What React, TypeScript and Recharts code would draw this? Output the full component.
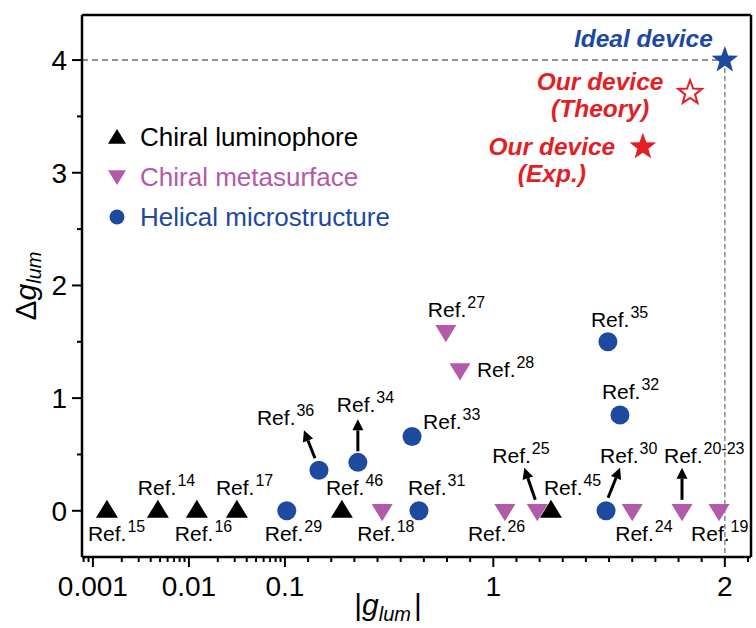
import React from 'react';
import { ScatterChart, Scatter, XAxis, YAxis, ReferenceLine, Legend } from 'recharts';

const BLACK = '#000000';
const MAGENTA = '#b35aa8';
const BLUE = '#1d4a9e';
const RED = '#e31e24';
const FONT = '"Liberation Sans", Arial, Helvetica, sans-serif';

// |g_lum| and delta g_lum
const luminophore = [
  { g: 0.0014, dg: 0, ref: '15' },
  { g: 0.00475, dg: 0, ref: '14' },
  { g: 0.0121, dg: 0, ref: '16' },
  { g: 0.0316, dg: 0, ref: '17' },
  { g: 0.346, dg: 0, ref: '46' },
  { g: 1.249, dg: 0, ref: '45' },
];
const metasurface = [
  { g: 0.52, dg: 0, ref: '18' },
  { g: 1.05, dg: 0, ref: '26' },
  { g: 1.19, dg: 0, ref: '25' },
  { g: 1.6, dg: 0, ref: '24' },
  { g: 1.815, dg: 0, ref: '20-23' },
  { g: 1.975, dg: 0, ref: '19' },
  { g: 0.795, dg: 1.59, ref: '27' },
  { g: 0.856, dg: 1.25, ref: '28' },
];
const helical = [
  { g: 0.108, dg: 0, ref: '29' },
  { g: 0.247, dg: 0.36, ref: '36' },
  { g: 0.415, dg: 0.43, ref: '34' },
  { g: 0.649, dg: 0.66, ref: '33' },
  { g: 0.679, dg: 0, ref: '31' },
  { g: 1.495, dg: 1.5, ref: '35' },
  { g: 1.547, dg: 0.85, ref: '32' },
  { g: 1.487, dg: 0, ref: '30' },
];
const devices = [
  { g: 2.0, dg: 4.0, id: 'ideal' },
  { g: 1.85, dg: 3.71, id: 'theory' },
  { g: 1.646, dg: 3.23, id: 'exp' },
];

const legendItems = [
  { name: 'Chiral luminophore', color: BLACK, shape: 'up' },
  { name: 'Chiral metasurface', color: MAGENTA, shape: 'down' },
  { name: 'Helical microstructure', color: BLUE, shape: 'circle' },
];

const majorX = [0.001, 0.01, 0.1, 1, 2];
const minorX = [
  0.0008, 0.0009,
  0.002, 0.003, 0.004, 0.005, 0.006, 0.007, 0.008, 0.009,
  0.02, 0.03, 0.04, 0.05, 0.06, 0.07, 0.08, 0.09,
  0.2, 0.3, 0.4, 0.5, 0.6, 0.7, 0.8, 0.9,
  1.1, 1.2, 1.3, 1.4, 1.5, 1.6, 1.7, 1.8, 1.9, 2.1,
];
const majorY = [0, 1, 2, 3, 4];
const minorY = [0.5, 1.5, 2.5, 3.5];

// broken axis: log below 0.1, linear above
const DECADE = 96;
const TENTH = 231.5;
const tx = (v: number) => (v <= 0.1 ? DECADE * (Math.log10(v) + 1) : TENTH * (v - 0.1));

const X_DOMAIN: [number, number] = [tx(0.00077), tx(2.113)];
const Y_DOMAIN: [number, number] = [-0.41, 4.4];
const xTicks = [...majorX, ...minorX].map(tx);
const yTicks = [...majorY, ...minorY];

const toPoints = (rows: { g: number; dg: number }[]) => rows.map((r) => ({ ...r, x: tx(r.g), y: r.dg }));

// label offsets (px) from the marker centre, arrows as [x1, y1, x2, y2]
const labelPlace: Record<string, { dx: number; dy: number; arrow?: number[] }> = {
  '15': { dx: -19, dy: 30 },
  '14': { dx: -20, dy: -16 },
  '16': { dx: -22, dy: 30 },
  '17': { dx: -21, dy: -16 },
  '46': { dx: -16, dy: -16 },
  '45': { dx: -7, dy: -16 },
  '18': { dx: -25, dy: 30 },
  '26': { dx: -37, dy: 30 },
  '25': { dx: -45, dy: -48, arrow: [-2, -11, -13, -43] },
  '24': { dx: -17, dy: 30 },
  '20-23': { dx: -18, dy: -48, arrow: [0, -11, 0, -43] },
  '19': { dx: -28, dy: 30 },
  '27': { dx: -18, dy: -15 },
  '28': { dx: 17, dy: 7 },
  '29': { dx: -22, dy: 30 },
  '36': { dx: -62, dy: -45, arrow: [-4, -12, -15, -40] },
  '34': { dx: -21, dy: -50, arrow: [0, -11, 0, -43] },
  '33': { dx: 11, dy: -7 },
  '31': { dx: -11, dy: -16 },
  '35': { dx: -17, dy: -15 },
  '32': { dx: -18, dy: -16 },
  '30': { dx: -6, dy: -48, arrow: [2, -13, 14, -43] },
};

const deviceText: Record<string, { lines: string[]; color: string; anchor: 'end' | 'middle'; dx: number; dy: number }> = {
  ideal: { lines: ['Ideal device'], color: BLUE, anchor: 'end', dx: -12, dy: -13 },
  theory: { lines: ['Our device', '(Theory)'], color: RED, anchor: 'middle', dx: -90, dy: -3 },
  exp: { lines: ['Our device', '(Exp.)'], color: RED, anchor: 'middle', dx: -91, dy: 8 },
};

const near = (list: number[], v: number, f: (n: number) => number) => list.find((m) => Math.abs(f(m) - v) < 1e-6);

const BottomTick = ({ x, y, payload }: any) => {
  const m = near(majorX, payload.value, tx);
  return (
    <g>
      <line x1={x} x2={x} y1={y} y2={y + (m !== undefined ? 10 : 5)} stroke={BLACK} strokeWidth={2} />
      {m !== undefined && (
        <text x={x} y={y + 39} textAnchor="middle" fontSize={28} fontFamily={FONT} fill={BLACK}>
          {String(m)}
        </text>
      )}
    </g>
  );
};

const TopTick = ({ x, y, payload }: any) => {
  const m = near(majorX, payload.value, tx);
  return <line x1={x} x2={x} y1={y} y2={y + (m !== undefined ? 10 : 5)} stroke={BLACK} strokeWidth={2} />;
};

const LeftTick = ({ x, y, payload }: any) => {
  const m = near(majorY, payload.value, (n) => n);
  return (
    <g>
      <line x1={x - (m !== undefined ? 10 : 5)} x2={x} y1={y} y2={y} stroke={BLACK} strokeWidth={2} />
      {m !== undefined && (
        <text x={x - 15} y={y + 10} textAnchor="end" fontSize={28} fontFamily={FONT} fill={BLACK}>
          {String(m)}
        </text>
      )}
    </g>
  );
};

const RightTick = ({ x, y, payload }: any) => {
  const m = near(majorY, payload.value, (n) => n);
  return <line x1={x - (m !== undefined ? 10 : 5)} x2={x} y1={y} y2={y} stroke={BLACK} strokeWidth={2} />;
};

const Arrow = ({ x1, y1, x2, y2 }: { x1: number; y1: number; x2: number; y2: number }) => {
  const len = Math.hypot(x2 - x1, y2 - y1);
  const ux = (x2 - x1) / len;
  const uy = (y2 - y1) / len;
  const hl = 11;
  const hw = 5.5;
  const bx = x2 - ux * hl;
  const by = y2 - uy * hl;
  return (
    <g>
      <line x1={x1} y1={y1} x2={bx} y2={by} stroke={BLACK} strokeWidth={3} />
      <polygon
        points={`${x2},${y2} ${bx - uy * hw},${by + ux * hw} ${bx + uy * hw},${by - ux * hw}`}
        fill={BLACK}
      />
    </g>
  );
};

const RefLabel = ({ cx, cy, refName }: { cx: number; cy: number; refName: string }) => {
  const p = labelPlace[refName];
  if (!p) return null;
  return (
    <g>
      {p.arrow && <Arrow x1={cx + p.arrow[0]} y1={cy + p.arrow[1]} x2={cx + p.arrow[2]} y2={cy + p.arrow[3]} />}
      <text x={cx + p.dx} y={cy + p.dy} fontSize={21} fontFamily={FONT} fill={BLACK}>
        Ref.
        <tspan dx={1} dy={-9} fontSize={16}>
          {refName}
        </tspan>
      </text>
    </g>
  );
};

const upTri = (cx: number, cy: number, s: number) =>
  `${cx},${cy - s} ${cx - s},${cy + s * 0.64} ${cx + s},${cy + s * 0.64}`;
const downTri = (cx: number, cy: number, s: number) =>
  `${cx - s},${cy - s * 0.64} ${cx + s},${cy - s * 0.64} ${cx},${cy + s}`;

const starPath = (cx: number, cy: number, R: number, r: number) => {
  const pts: string[] = [];
  for (let i = 0; i < 10; i++) {
    const a = -Math.PI / 2 + (i * Math.PI) / 5;
    const rad = i % 2 === 0 ? R : r;
    pts.push(`${cx + rad * Math.cos(a)},${cy + rad * Math.sin(a)}`);
  }
  return `M${pts.join('L')}Z`;
};

const UpShape = ({ cx, cy, payload }: any) => (
  <g>
    <polygon points={upTri(cx, cy, 11)} fill={BLACK} />
    <RefLabel cx={cx} cy={cy} refName={payload.ref} />
  </g>
);

const DownShape = ({ cx, cy, payload }: any) => (
  <g>
    <polygon points={downTri(cx, cy, 10.5)} fill={MAGENTA} />
    <RefLabel cx={cx} cy={cy} refName={payload.ref} />
  </g>
);

const CircleShape = ({ cx, cy, payload }: any) => (
  <g>
    <circle cx={cx} cy={cy} r={9.5} fill={BLUE} />
    <RefLabel cx={cx} cy={cy} refName={payload.ref} />
  </g>
);

const StarShape = ({ cx, cy, payload }: any) => {
  const t = deviceText[payload.id];
  const open = payload.id === 'theory';
  const tx0 = cx + t.dx;
  return (
    <g>
      <path
        d={starPath(cx, cy, open ? 12.5 : 14, open ? 5.2 : 5.8)}
        fill={open ? '#ffffff' : t.color}
        stroke={t.color}
        strokeWidth={open ? 2 : 0}
      />
      {t.lines.map((line, i) => (
        <text
          key={line}
          x={tx0}
          y={cy + t.dy + i * 27}
          textAnchor={t.anchor}
          fontSize={24.5}
          fontWeight="bold"
          fontStyle="italic"
          fontFamily={FONT}
          fill={t.color}
        >
          {line}
        </text>
      ))}
    </g>
  );
};

const LegendBox = () => (
  <div style={{ fontFamily: FONT, fontSize: 26 }}>
    {legendItems.map((it) => (
      <div key={it.name} style={{ display: 'flex', alignItems: 'center', height: 40 }}>
        <svg width={24} height={24} style={{ marginRight: 11 }}>
          {it.shape === 'up' && <polygon points={upTri(12, 13, 9)} fill={it.color} />}
          {it.shape === 'down' && <polygon points={downTri(12, 11, 9)} fill={it.color} />}
          {it.shape === 'circle' && <circle cx={12} cy={12} r={7.5} fill={it.color} />}
        </svg>
        <span style={{ color: it.color, whiteSpace: 'nowrap' }}>{it.name}</span>
      </div>
    ))}
  </div>
);

const YTitle = () => (
  <text x={36} y={286} transform="rotate(-90, 36, 286)" textAnchor="middle" fontSize={30} fontFamily={FONT} fill={BLACK}>
    Δ<tspan fontStyle="italic">g</tspan>
    <tspan fontStyle="italic" fontSize={20} dy={5}>
      lum
    </tspan>
  </text>
);

const XTitle = () => (
  <text x={388} y={615} textAnchor="middle" fontSize={30} fontFamily={FONT} fill={BLACK}>
    |<tspan fontStyle="italic">g</tspan>
    <tspan fontStyle="italic" fontSize={20} dy={6}>
      lum
    </tspan>
    <tspan dx={3} dy={-6}>
      |
    </tspan>
  </text>
);

const axisLine = { stroke: BLACK, strokeWidth: 2.5 };

const App = () => (
  <div style={{ position: 'absolute', left: 0, top: 0, background: '#fff' }}>
    <ScatterChart width={756} height={628} margin={{ top: 0, right: 0, bottom: 0, left: 0 }}>
      <XAxis
        type="number"
        dataKey="x"
        domain={X_DOMAIN}
        ticks={xTicks}
        interval={0}
        height={71}
        tickSize={0}
        tickMargin={0}
        tickLine={false}
        axisLine={axisLine}
        tick={(p: any) => <BottomTick {...p} />}
        label={<XTitle />}
      />
      <XAxis
        xAxisId="top"
        orientation="top"
        type="number"
        dataKey="x"
        domain={X_DOMAIN}
        ticks={xTicks}
        interval={0}
        height={15}
        tickSize={0}
        tickMargin={0}
        tickLine={false}
        axisLine={axisLine}
        tick={(p: any) => <TopTick {...p} />}
      />
      <YAxis
        type="number"
        dataKey="y"
        domain={Y_DOMAIN}
        ticks={yTicks}
        interval={0}
        width={82}
        tickSize={0}
        tickMargin={0}
        tickLine={false}
        axisLine={axisLine}
        tick={(p: any) => <LeftTick {...p} />}
        label={<YTitle />}
      />
      <YAxis
        yAxisId="right"
        orientation="right"
        type="number"
        dataKey="y"
        domain={Y_DOMAIN}
        ticks={yTicks}
        interval={0}
        width={5}
        tickSize={0}
        tickMargin={0}
        tickLine={false}
        axisLine={axisLine}
        tick={(p: any) => <RightTick {...p} />}
      />
      <ReferenceLine
        segment={[{ x: X_DOMAIN[0], y: 4 }, { x: tx(2), y: 4 }]}
        stroke="#6f6f6f"
        strokeWidth={1.5}
        strokeDasharray="6 4"
      />
      <ReferenceLine
        segment={[{ x: tx(2), y: 4 }, { x: tx(2), y: Y_DOMAIN[0] }]}
        stroke="#8a8a8a"
        strokeWidth={1.5}
        strokeDasharray="5 3"
      />
      <Legend
        layout="vertical"
        align="center"
        verticalAlign="middle"
        wrapperStyle={{ left: 105, top: 117, width: 'auto', height: 'auto' }}
        content={() => <LegendBox />}
      />
      <Scatter name="Chiral luminophore" data={toPoints(luminophore)} shape={(p: any) => <UpShape {...p} />} isAnimationActive={false} />
      <Scatter name="Chiral metasurface" data={toPoints(metasurface)} shape={(p: any) => <DownShape {...p} />} isAnimationActive={false} />
      <Scatter name="Helical microstructure" data={toPoints(helical)} shape={(p: any) => <CircleShape {...p} />} isAnimationActive={false} />
      <Scatter name="devices" data={toPoints(devices)} shape={(p: any) => <StarShape {...p} />} isAnimationActive={false} legendType="none" />
    </ScatterChart>
  </div>
);

export default App;
